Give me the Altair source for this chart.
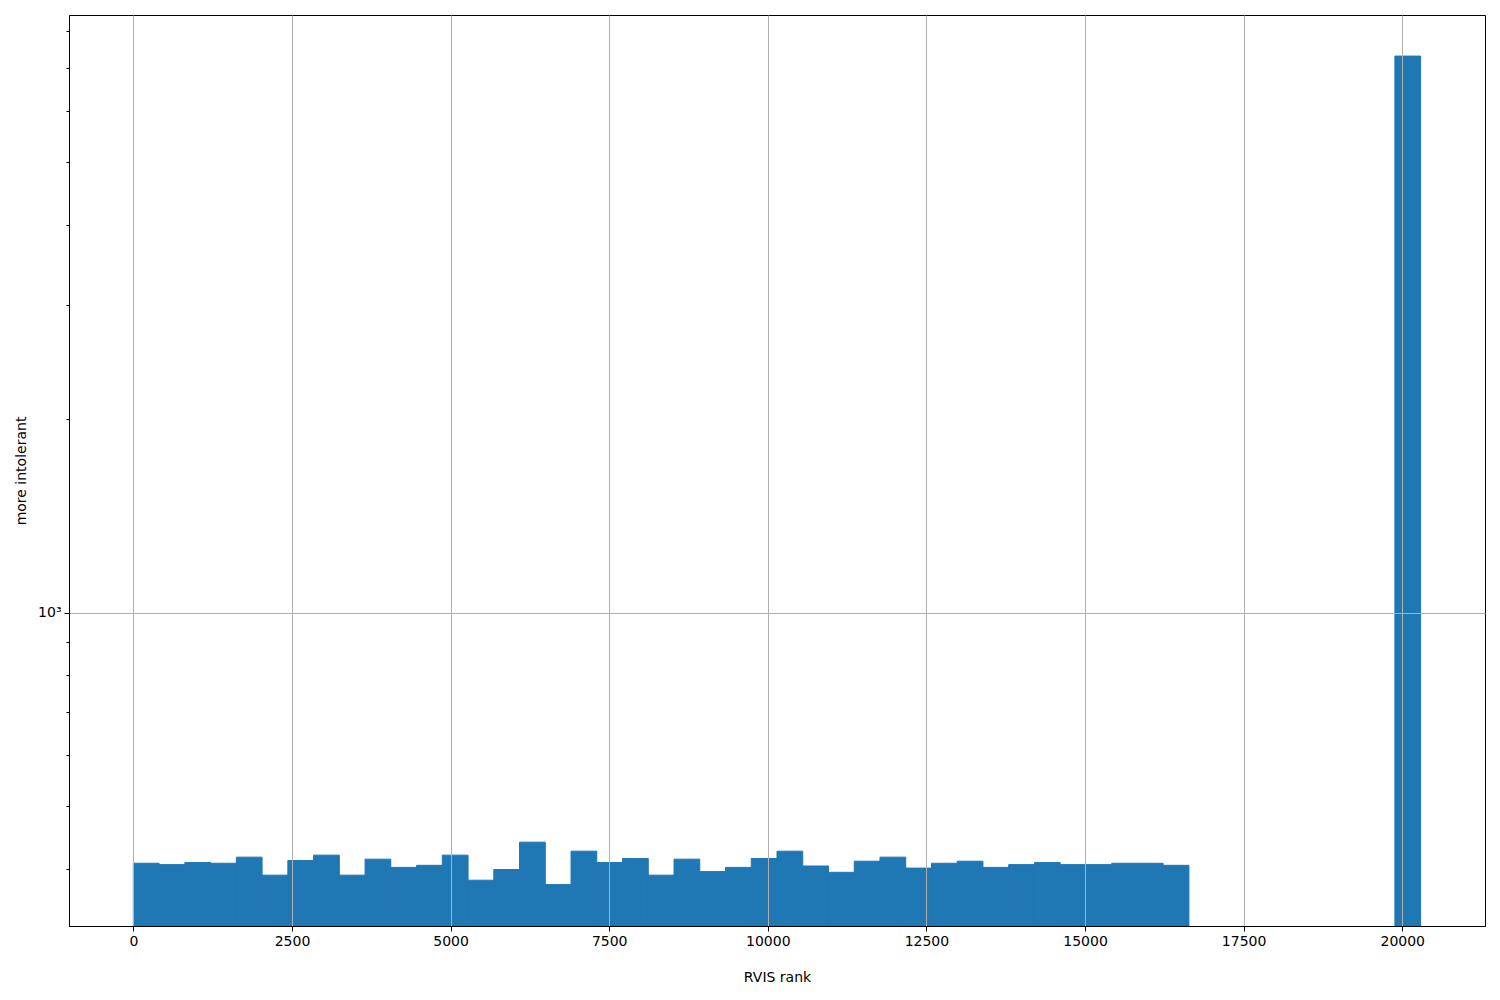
import altair as alt
import numpy as np
import pandas as pd

# Histogram of RVIS rank (50 bins over 0..20290), counts
bin_edges = list(np.linspace(0, 20290, 51))
counts = [408, 406, 409, 408, 417, 391, 412, 420, 391, 414,
          402, 405, 420, 384, 399, 440, 378, 426, 409, 415,
          391, 414, 396, 402, 415, 426, 404, 395, 411, 417,
          401, 408, 411, 402, 406, 409, 406, 406, 408, 408,
          405, 0, 0, 0, 0, 0, 0, 0, 0, 7313]

x_ticks = [0, 2500, 5000, 7500, 10000, 12500, 15000, 17500, 20000]
y_ticks = [400, 500, 600, 700, 800, 900, 1000, 2000, 3000, 4000, 5000, 6000, 7000, 8000]
x_domain = [-1014.5, 21304.5]
y_domain = [326, 8470]

df = pd.DataFrame({
    "start": bin_edges[:-1],
    "end": bin_edges[1:],
    "count": counts,
})
df = df[df["count"] > 0]

FONT = "DejaVu Sans"
FS = 14

chart = alt.Chart(df).mark_rect(color="#1f77b4", stroke="#1f77b4", strokeWidth=1).encode(
    x=alt.X("start:Q",
            scale=alt.Scale(domain=x_domain, nice=False, zero=False),
            axis=alt.Axis(values=x_ticks, format="d", title="RVIS rank",
                          grid=True, gridColor="#b0b0b0", gridWidth=1,
                          tickSize=5, tickColor="black", domainColor="black",
                          labelPadding=3, titlePadding=22, zindex=1)),
    x2="end:Q",
    y=alt.Y("count:Q",
            scale=alt.Scale(type="log", domain=y_domain, nice=False),
            axis=alt.Axis(values=y_ticks, title="more intolerant",
                          labelExpr="datum.value == 1000 ? '10³' : ''",
                          grid=True, gridColor="#b0b0b0", gridWidth=1,
                          gridOpacity={"condition": {"test": "datum.value == 1000", "value": 1}, "value": 0},
                          tickSize={"condition": {"test": "datum.value == 1000", "value": 5}, "value": 3},
                          tickColor="black", domainColor="black",
                          labelPadding=3, titlePadding=9, zindex=1)),
    y2=alt.datum(y_domain[0]),
).properties(
    width=1416,
    height=911,
    background="white",
    autosize=alt.AutoSizeParams(type="none"),
    padding={"left": 61, "top": 7, "right": 7, "bottom": 70},
).configure_axis(
    labelFont=FONT, labelFontSize=FS, labelColor="black",
    titleFont=FONT, titleFontSize=FS, titleFontWeight="normal", titleColor="black",
).configure_view(
    stroke="black", strokeWidth=1
)

chart.save("out.html", embed_options={"renderer": "svg", "actions": False})
